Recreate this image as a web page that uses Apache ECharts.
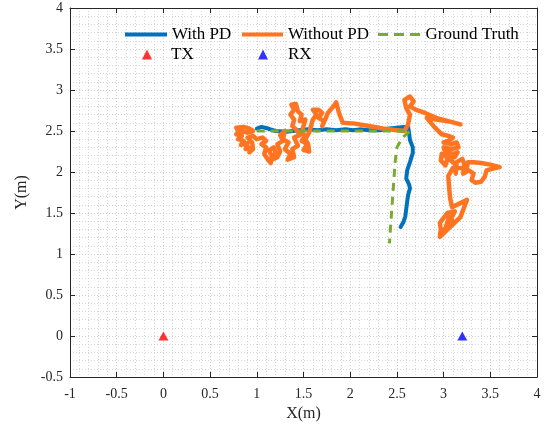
<!DOCTYPE html>
<html>
<head>
<meta charset="utf-8">
<script src="https://cdn.jsdelivr.net/npm/echarts@6/dist/echarts.min.js"></script>
<style>html,body{margin:0;padding:0;background:#fff}#c{width:548px;height:432px}</style>
</head>
<body>
<div id="c"></div>
<script>
// Tick settings
var xTicks = { min: -1, max: 4, interval: 0.5 };
var yTicks = { min: -0.5, max: 4, interval: 0.5 };

// With PD (estimated trajectory)
var withPD = [
  [1.00,2.53],[1.05,2.55],[1.12,2.53],[1.20,2.50],[1.32,2.49],[1.45,2.51],[1.55,2.52],
  [1.65,2.51],[1.75,2.52],[1.85,2.51],[1.95,2.52],[2.03,2.51],[2.10,2.52],[2.20,2.51],
  [2.32,2.51],[2.42,2.53],[2.50,2.54],[2.57,2.55],[2.62,2.55],[2.63,2.48],[2.64,2.39],
  [2.67,2.30],[2.67,2.23],[2.64,2.12],[2.61,2.02],[2.60,1.92],[2.63,1.85],[2.64,1.80],
  [2.62,1.72],[2.61,1.64],[2.60,1.55],[2.59,1.46],[2.57,1.39],[2.54,1.33]
];

// Without PD (estimated trajectory)
var withoutPD = [
  [0.80,2.50],[0.78,2.54],[0.86,2.55],[0.92,2.53],[0.96,2.50],[0.90,2.48],[0.82,2.50],
  [0.78,2.46],[0.84,2.44],[0.80,2.40],[0.86,2.38],[0.83,2.33],[0.90,2.35],[0.88,2.28],
  [0.94,2.30],[0.92,2.24],[0.96,2.28],[0.95,2.36],[0.90,2.42],[0.96,2.44],[1.00,2.40],
  [1.06,2.42],[1.10,2.38],[1.05,2.34],
  [1.10,2.30],[1.08,2.22],[1.12,2.15],[1.15,2.11],[1.16,2.20],[1.13,2.26],[1.18,2.30],
  [1.20,2.24],[1.18,2.16],[1.22,2.18],
  [1.25,2.25],[1.22,2.34],[1.28,2.38],[1.25,2.45],[1.30,2.50],[1.28,2.40],[1.34,2.36],
  [1.30,2.28],[1.36,2.22],[1.33,2.15],[1.40,2.18],[1.38,2.28],[1.44,2.32],[1.40,2.42],
  [1.46,2.45],[1.42,2.52],[1.38,2.56],[1.40,2.64],[1.36,2.70],[1.40,2.76],[1.37,2.82],
  [1.42,2.83],[1.44,2.74],[1.48,2.70],[1.46,2.62],[1.52,2.64],[1.50,2.56],[1.48,2.48],
  [1.52,2.44],[1.48,2.38],[1.54,2.34],[1.50,2.27],[1.56,2.25],[1.55,2.34],[1.52,2.40],
  [1.56,2.48],[1.58,2.56],[1.60,2.64],[1.64,2.70],[1.60,2.76],[1.66,2.76],[1.70,2.72],
  [1.66,2.66],[1.72,2.62],[1.70,2.56],[1.74,2.66],[1.76,2.72],
  [1.82,2.80],[1.85,2.85],[1.88,2.72],[1.92,2.60],[2.05,2.59],[2.20,2.56],[2.35,2.53],
  [2.50,2.51],[2.58,2.50],
  [2.62,2.58],[2.64,2.70],[2.60,2.78],[2.58,2.88],[2.64,2.92],[2.68,2.86],[2.64,2.80],
  [2.70,2.76],[2.80,2.72],[2.92,2.66],[3.05,2.62],[3.18,2.58],[3.05,2.62],[2.92,2.64],
  [2.82,2.66],
  [2.90,2.55],[2.98,2.46],[3.05,2.44],[3.10,2.42],[3.05,2.38],[3.00,2.36],[3.08,2.34],
  [3.14,2.36],[3.16,2.30],[3.08,2.28],[3.00,2.30],[3.02,2.24],[3.10,2.22],[3.15,2.24],
  [3.12,2.18],[3.04,2.18],[2.98,2.22],[2.97,2.14],[3.02,2.08],[3.04,2.16],[3.08,2.14],
  [3.12,2.10],[3.13,1.98],[3.14,2.12],[3.20,2.16],[3.22,2.10],[3.21,1.98],[3.24,2.00],
  [3.26,2.12],[3.32,2.12],[3.40,2.11],[3.50,2.09],[3.60,2.06],[3.52,2.04],[3.46,2.02],
  [3.44,1.94],[3.40,1.88],[3.34,1.87],[3.30,1.90],[3.32,1.98],[3.27,2.02],[3.18,2.05],
  [3.10,2.05],[3.05,1.95],[3.06,1.80],[3.07,1.68],[3.09,1.57],[3.25,1.66],[3.18,1.45],
  [3.08,1.34],[2.96,1.21],[2.97,1.30],[2.96,1.38],[3.04,1.50],[3.12,1.52],[3.02,1.30],
  [3.10,1.40],[3.00,1.25],[3.06,1.45]
];

// Ground Truth
var groundTruth = [
  [1.00,2.50],[1.50,2.50],[2.00,2.50],[2.50,2.50],[2.64,2.50],[2.56,2.42],[2.50,2.30],
  [2.48,2.11],[2.45,1.62],[2.42,1.13]
];

var tx = [[0,0]];
var rx = [[3.2,0]];

var FONT = 'Liberation Serif';
var AX = '#262626';

function mkX(pos, showLabel, main){
  return {
    type:'value', position:pos, min:xTicks.min, max:xTicks.max, interval:xTicks.interval,
    name: main ? 'X(m)' : '', nameLocation:'middle', nameGap:22,
    nameTextStyle:{fontFamily:FONT,fontSize:16,color:AX},
    axisLine:{show:true,onZero:false,lineStyle:{color:AX,width:1}},
    axisTick:{show:true,inside:true,length:5,lineStyle:{color:AX}},
    axisLabel:{show:showLabel,fontFamily:FONT,fontSize:14,color:AX,margin:10},
    splitLine:{show:main,lineStyle:{color:'#cfcfcf',type:[1,2]}},
    minorTick:{show:false,splitNumber:5},
    minorSplitLine:{show:main,lineStyle:{color:'#d6d6d6',type:[1,2]}}
  };
}
function mkY(pos, showLabel, main){
  return {
    type:'value', position:pos, min:yTicks.min, max:yTicks.max, interval:yTicks.interval,
    name: main ? 'Y(m)' : '', nameLocation:'middle', nameGap:40, nameRotate:90,
    nameTextStyle:{fontFamily:FONT,fontSize:16,color:AX},
    axisLine:{show:true,onZero:false,lineStyle:{color:AX,width:1}},
    axisTick:{show:true,inside:true,length:5,lineStyle:{color:AX}},
    axisLabel:{show:showLabel,fontFamily:FONT,fontSize:14,color:AX,margin:7},
    splitLine:{show:main,lineStyle:{color:'#cfcfcf',type:[1,2]}},
    minorTick:{show:false,splitNumber:5},
    minorSplitLine:{show:main,lineStyle:{color:'#d6d6d6',type:[1,2]}}
  };
}

function leg(item,left,top,w,h,pad){
  return {data:[item],left:left,top:top,itemWidth:w,itemHeight:h,selectedMode:false,padding:0,itemGap:0,
    textStyle:{fontFamily:FONT,fontSize:17,color:'#000',padding:[0,0,0,pad||0]}};
}
var solidIcon = 'path://M0,0L42,0L42,4L0,4Z';
var dashIcon = 'path://M0,0h10v3h-10zM16,0h10v3h-10zM32,0h10v3h-10z';

var chart = echarts.init(document.getElementById('c'),null,{renderer:'canvas'});
chart.setOption({
  animation:false,
  backgroundColor:'#fff',
  grid:{left:70,right:11,top:8,bottom:55,containLabel:false},
  xAxis:[mkX('bottom',true,true), mkX('top',false,false)],
  yAxis:[mkY('left',true,true), mkY('right',false,false)],
  legend:[
    leg({name:'With PD',icon:solidIcon},125,26,42,4),
    leg({name:'Without PD',icon:solidIcon},242,26,41,4),
    leg({name:'Ground Truth',icon:dashIcon},378,26,43,3),
    leg({name:'TX',icon:'triangle'},142,46,10,10,14),
    leg({name:'RX',icon:'triangle'},258,46,10,10,15)
  ],
  series:[
    {name:'With PD',type:'line',data:withPD,showSymbol:false,symbol:'none',z:2,
     lineStyle:{color:'#0072BD',width:4,join:'round',cap:'round'},itemStyle:{color:'#0072BD'}},
    {name:'Without PD',type:'line',data:withoutPD,showSymbol:false,symbol:'none',z:3,
     lineStyle:{color:'#FF7420',width:4.5,join:'round',cap:'round'},itemStyle:{color:'#FF7420'}},
    {name:'Ground Truth',type:'line',data:groundTruth,showSymbol:false,symbol:'none',z:4,
     lineStyle:{color:'#77AC30',width:3,type:[8,6]},itemStyle:{color:'#77AC30'}},
    {name:'TX',type:'scatter',data:tx,symbol:'triangle',symbolSize:[10,9],z:5,itemStyle:{color:'#FF0000'}},
    {name:'RX',type:'scatter',data:rx,symbol:'triangle',symbolSize:[10,9],z:5,itemStyle:{color:'#0000FF'}}
  ]
});
</script>
</body>
</html>
